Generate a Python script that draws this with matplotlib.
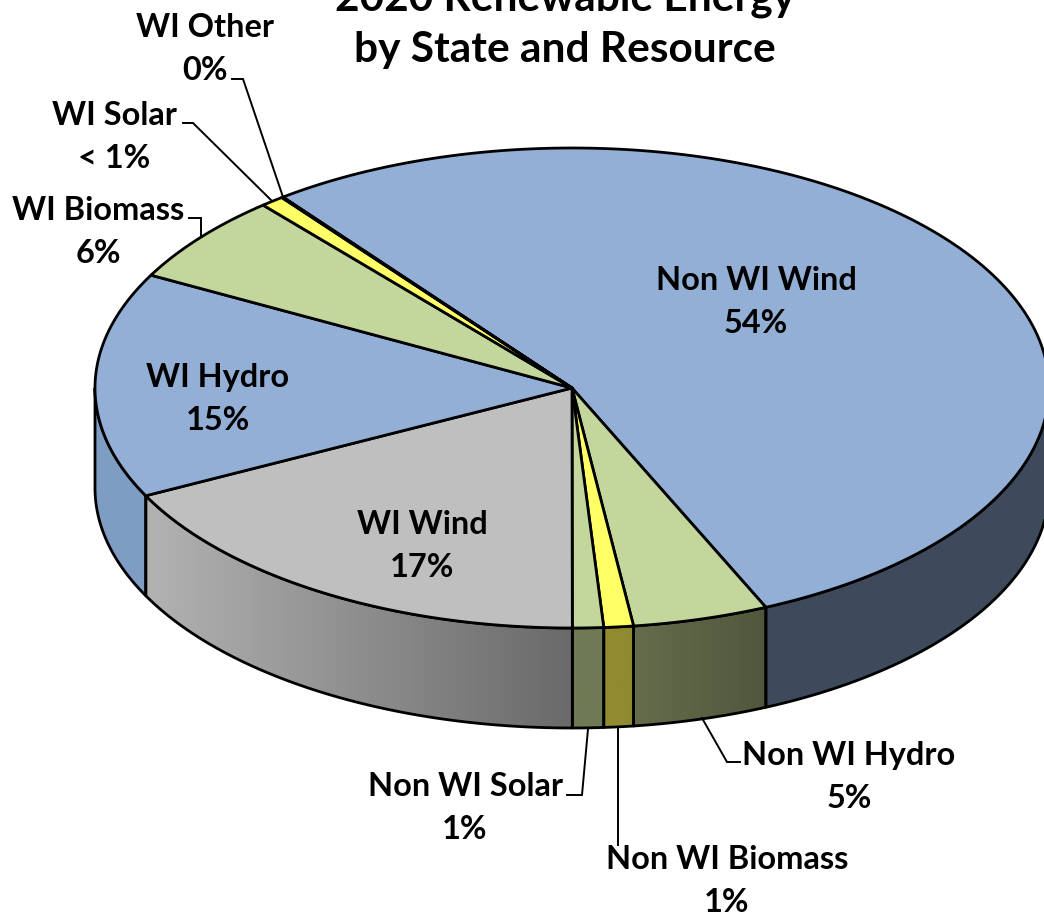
import numpy as np
import matplotlib
matplotlib.use("Agg")
import matplotlib.pyplot as plt
from matplotlib.patches import Polygon, PathPatch
from matplotlib.path import Path

plt.rcParams['font.family'] = ['Lato', 'DejaVu Sans']

# slice order is clockwise from the start angle
names = ["Non WI Wind", "Non WI Hydro", "Non WI Biomass", "Non WI Solar", "WI Wind",
         "WI Hydro", "WI Biomass", "WI Solar", "WI Other"]
shares = [53.7, 4.6, 1.0, 1.05, 17.6, 15.2, 6.0, 0.8, 0.05]
pct_labels = ["54%", "5%", "1%", "1%", "17%", "15%", "6%", "< 1%", "0%"]

top_colors = ["#93afd6", "#c3d69b", "#ffff66", "#c3d69b", "#bfbfbf",
              "#93afd6", "#c3d69b", "#ffff66", "#93afd6"]
# side wall colours, left end and right end of the gradient
side_colors = [("#3e4a5c", "#3e4a5c"), ("#646c4c", "#50573c"), ("#948c30", "#8f8a30"),
               ("#6f7a55", "#6f7a55"), ("#b2b2b2", "#6a6a6a"), ("#7f9dc2", "#7f9dc2"),
               ("#7f9dc2", "#7f9dc2"), ("#7f9dc2", "#7f9dc2"), ("#7f9dc2", "#7f9dc2")]

label_pos = {
    "Non WI Wind": (756, 302), "Non WI Hydro": (849, 777), "Non WI Biomass": (727, 881),
    "Non WI Solar": (465, 808), "WI Wind": (422, 546), "WI Hydro": (218, 399),
    "WI Biomass": (98, 232), "WI Solar": (114, 137), "WI Other": (205, 49),
}
leaders = [
    [(232, 79), (243, 79), (283, 197)],
    [(183, 123), (193, 123), (272, 201)],
    [(189, 218), (201, 218), (201, 237)],
    [(567, 795), (582, 795), (588, 729)],
    [(618, 727), (618, 845)],
    [(702, 718), (727, 762), (740, 762)],
]

CX, CY, RX, RY = 572, 388, 477, 240
DEPTH = 100
START = -37.3
LW = 2.0


def arc(t0, t1, dy=0, n=None):
    if n is None:
        n = max(int(abs(t1 - t0)) * 2, 2)
    t = np.radians(np.linspace(t0, t1, n))
    return np.column_stack([CX + RX * np.sin(t), CY - RY * np.cos(t) + dy])


def hex_rgb(c):
    return np.array(matplotlib.colors.to_rgb(c))


fig = plt.figure(figsize=(10.44, 9.13), dpi=100)
ax = fig.add_axes([0, 0, 1, 1])

# angles
edges = START + np.concatenate([[0], np.cumsum(shares)]) * 3.6

# side walls, only the front half of the pie shows
for i in range(len(shares)):
    t0, t1 = max(edges[i], 90), min(edges[i + 1], 270)
    if t1 <= t0:
        continue
    top = arc(t0, t1)
    bottom = arc(t0, t1, DEPTH)
    pts = np.vstack([top, bottom[::-1]])
    x0, x1 = pts[:, 0].min(), pts[:, 0].max()
    c_left, c_right = hex_rgb(side_colors[i][0]), hex_rgb(side_colors[i][1])
    grad = np.linspace(0, 1, 64)[None, :, None]
    img = c_left[None, None, :] * (1 - grad) + c_right[None, None, :] * grad
    im = ax.imshow(img, extent=[x0, x1, pts[:, 1].max(), pts[:, 1].min()],
                   aspect='auto', zorder=1, interpolation='bilinear')
    clip = PathPatch(Path(np.vstack([pts, pts[:1]])), transform=ax.transData,
                     fc='none', ec='none')
    ax.add_patch(clip)
    im.set_clip_path(clip)
    ax.add_patch(Polygon(pts, closed=True, fc='none', ec='black', lw=LW, zorder=2,
                         joinstyle='round'))

# top face
for i in range(len(shares)):
    pts = np.vstack([[(CX, CY)], arc(edges[i], edges[i + 1], n=max(int(shares[i] * 8), 4))])
    ax.add_patch(Polygon(pts, closed=True, fc=top_colors[i], ec='black', lw=LW, zorder=3,
                         joinstyle='round'))

# leader lines
for pts in leaders:
    xs, ys = zip(*pts)
    ax.plot(xs, ys, color='black', lw=1.4, zorder=4, solid_joinstyle='miter')

for name, pct in zip(names, pct_labels):
    x, y = label_pos[name]
    ax.text(x, y, f"{name}\n{pct}", ha='center', va='center', multialignment='center',
            fontsize=23.4, fontweight='bold', color='black', linespacing=1.6, zorder=5)

ax.text(565, 24, "2020 Renewable Energy\nby State and Resource", ha='center', va='center',
        multialignment='center', fontsize=30.5, fontweight='bold', color='black',
        linespacing=1.42, zorder=5)

ax.set_xlim(0, 1044)
ax.set_ylim(913, 0)
ax.axis('off')
fig.savefig("out.png", dpi=100, facecolor='white')
